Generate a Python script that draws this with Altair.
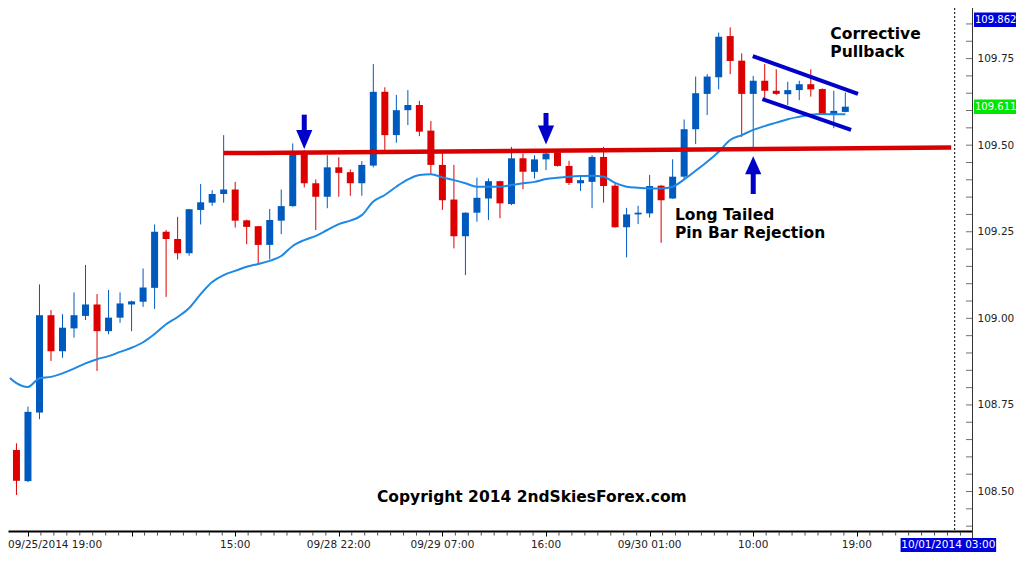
import altair as alt
import pandas as pd

# ---------------- data ----------------
bar_index = list(range(73))
open_px = [108.620, 108.530, 108.728, 109.009, 108.905, 108.971, 109.007, 109.040, 108.963, 109.002,
           109.040, 109.048, 109.088, 109.250, 109.229, 109.188, 109.313, 109.334, 109.359, 109.372,
           109.283, 109.266, 109.212, 109.282, 109.324, 109.481, 109.390, 109.351, 109.436, 109.422,
           109.390, 109.441, 109.654, 109.529, 109.601, 109.616, 109.542, 109.443, 109.343, 109.237,
           109.305, 109.346, 109.396, 109.330, 109.462, 109.423, 109.459, 109.479, 109.440, 109.390,
           109.394, 109.466, 109.383, 109.263, 109.300, 109.303, 109.383, 109.346, 109.409, 109.546,
           109.648, 109.696, 109.815, 109.744, 109.648, 109.686, 109.657, 109.647, 109.659, 109.676,
           109.662, 109.590, 109.596]
high_px = [108.639, 108.745, 109.098, 109.024, 109.012, 109.075, 109.154, 109.070, 109.082, 109.075,
           109.051, 109.144, 109.271, 109.255, 109.293, 109.316, 109.388, 109.370, 109.529, 109.394,
           109.285, 109.267, 109.316, 109.372, 109.505, 109.486, 109.401, 109.471, 109.465, 109.430,
           109.454, 109.734, 109.667, 109.645, 109.659, 109.628, 109.570, 109.476, 109.443, 109.306,
           109.406, 109.404, 109.397, 109.495, 109.476, 109.471, 109.481, 109.480, 109.455, 109.411,
           109.471, 109.495, 109.390, 109.319, 109.325, 109.414, 109.385, 109.459, 109.574, 109.698,
           109.705, 109.825, 109.840, 109.765, 109.700, 109.734, 109.719, 109.683, 109.686, 109.719,
           109.664, 109.657, 109.652]
low_px = [108.490, 108.527, 108.709, 108.877, 108.886, 108.944, 108.995, 108.848, 108.954, 108.987,
          108.963, 109.033, 109.027, 109.062, 109.170, 109.181, 109.271, 109.325, 109.334, 109.262,
          109.214, 109.157, 109.170, 109.243, 109.322, 109.378, 109.255, 109.318, 109.351, 109.354,
          109.354, 109.436, 109.486, 109.507, 109.558, 109.526, 109.417, 109.313, 109.202, 109.125,
          109.279, 109.284, 109.289, 109.327, 109.373, 109.404, 109.428, 109.438, 109.385, 109.368,
          109.318, 109.334, 109.262, 109.176, 109.272, 109.291, 109.218, 109.345, 109.402, 109.503,
          109.587, 109.661, 109.705, 109.524, 109.494, 109.630, 109.645, 109.616, 109.630, 109.640,
          109.589, 109.549, 109.595]
close_px = [108.531, 108.730, 109.009, 108.905, 108.973, 109.009, 109.040, 108.963, 109.002, 109.043,
            109.049, 109.089, 109.250, 109.229, 109.188, 109.315, 109.335, 109.359, 109.372, 109.282,
            109.264, 109.212, 109.284, 109.324, 109.481, 109.390, 109.351, 109.436, 109.420, 109.390,
            109.443, 109.654, 109.529, 109.601, 109.616, 109.539, 109.443, 109.341, 109.237, 109.305,
            109.348, 109.396, 109.332, 109.462, 109.423, 109.459, 109.476, 109.440, 109.391, 109.399,
            109.466, 109.382, 109.263, 109.300, 109.305, 109.382, 109.341, 109.409, 109.546, 109.650,
            109.698, 109.813, 109.743, 109.648, 109.686, 109.657, 109.648, 109.659, 109.676, 109.661,
            109.590, 109.599, 109.611]

ma_index = [-0.57] + list(range(73))
ma_values = [108.828,
             108.813, 108.802, 108.827, 108.831, 108.841, 108.855, 108.870, 108.882, 108.891, 108.903,
             108.915, 108.931, 108.955, 108.983, 109.004, 109.030, 109.070, 109.105, 109.125, 109.137,
             109.149, 109.157, 109.166, 109.180, 109.209, 109.226, 109.238, 109.255, 109.272, 109.282,
             109.298, 109.337, 109.356, 109.380, 109.401, 109.414, 109.416, 109.407, 109.399, 109.390,
             109.380, 109.380, 109.380, 109.385, 109.390, 109.394, 109.402, 109.406, 109.409, 109.411,
             109.412, 109.409, 109.391, 109.380, 109.377, 109.375, 109.375, 109.380, 109.401, 109.426,
             109.452, 109.481, 109.515, 109.529, 109.544, 109.555, 109.565, 109.575, 109.582, 109.588,
             109.590, 109.589, 109.589]

x_major_ticks = [1, 10, 19, 28, 37, 46, 55, 64, 73]
x_label_pos = [19, 28, 37, 46, 55, 64, 73]
x_label_txt = ["15:00", "09/28 22:00", "09/29 07:00", "16:00", "09/30 01:00", "10:00", "19:00"]
first_time_label = "09/25/2014 19:00"
cursor_time_label = "10/01/2014 03:00"
cursor_time_pos = [76.8, 85.1, 80.95]

y_tick_values = [108.50, 108.75, 109.00, 109.25, 109.50, 109.75]
y_minor_ticks = [108.40, 108.45, 108.50, 108.55, 108.60, 108.65, 108.70, 108.75, 108.80, 108.85,
                 108.90, 108.95, 109.00, 109.05, 109.10, 109.15, 109.20, 109.25, 109.30, 109.35,
                 109.40, 109.45, 109.50, 109.55, 109.60, 109.65, 109.70, 109.75, 109.80, 109.85]
x_minor_ticks = [2.125, 3.25, 4.375, 5.5, 6.625, 7.75, 8.875, 11.125, 12.25, 13.375, 14.5, 15.625,
                 16.75, 17.875, 20.125, 21.25, 22.375, 23.5, 24.625, 25.75, 26.875, 29.125, 30.25,
                 31.375, 32.5, 33.625, 34.75, 35.875, 38.125, 39.25, 40.375, 41.5, 42.625, 43.75,
                 44.875, 47.125, 48.25, 49.375, 50.5, 51.625, 52.75, 53.875, 56.125, 57.25, 58.375,
                 59.5, 60.625, 61.75, 62.875, 65.125, 66.25, 67.375, 68.5, 69.625, 70.75, 71.875,
                 74.125, 75.25, 76.375, 77.5, 78.625, 79.75, 80.875, 82.0]

price_box_values = [109.862, 109.611]
price_box_text = ["109.862", "109.611"]
price_box_color = ["#0000dd", "#00e600"]

# annotation geometry (bar index, price)
support_line_idx = [18.0, 81.2]
support_line_px = [109.477, 109.493]
channel_seg = ["upper", "upper", "lower", "lower"]
channel_idx = [63.96, 73.1, 64.8, 72.5]
channel_px = [109.757, 109.648, 109.633, 109.544]
arrow_idx = [25, 46, 64]
arrow_shaft_top = [109.588, 109.593, 109.422]
arrow_shaft_bot = [109.538, 109.552, 109.359]
arrow_head_px = [109.516, 109.529, 109.442]
arrow_dir = ["down", "down", "up"]
note_text = ["Corrective", "Pullback", "Long Tailed", "Pin Bar Rejection"]
note_idx = [70.7, 70.7, 57.2, 57.2]
note_px = [109.821, 109.769, 109.298, 109.246]
copyright_text = "Copyright 2014 2ndSkiesForex.com"
copyright_idx = 44.77
copyright_px = 108.484
dashed_line_idx = 81.5

# ---------------- chart ----------------
RED = "#dc0000"
BLUE = "#005abe"
ANNOT = "#0000c8"
FONT = "DejaVu Sans"
W, H = 964, 523

candles = pd.DataFrame({"i": bar_index, "open": open_px, "high": high_px,
                        "low": low_px, "close": close_px})
candles["dir"] = ["up" if c >= o else "down" for o, c in zip(open_px, close_px)]

xscale = alt.Scale(domain=[-0.3, 82.57], nice=False, zero=False)
yscale = alt.Scale(domain=[108.386, 109.896], nice=False, zero=False)
xaxis = alt.Axis(values=x_major_ticks, labels=False, ticks=True, tickSize=5, tickColor="black",
                 domainColor="black", domainWidth=2, grid=False, title=None)
yaxis = alt.Axis(orient="right", values=y_tick_values, format=".2f", tickSize=0, labelPadding=5,
                 domain=False, grid=False, title=None, labelFont=FONT, labelFontSize=10.5,
                 labelColor="#222222")


def X(f):
    return alt.X(f, type="quantitative", scale=xscale, axis=xaxis)


def Y(f):
    return alt.Y(f, type="quantitative", scale=yscale, axis=yaxis)


color = alt.Color("dir:N", scale=alt.Scale(domain=["up", "down"], range=[BLUE, RED]), legend=None)

wicks = alt.Chart(candles).mark_rule(strokeWidth=1).encode(
    x=X("i"), y=Y("low"), y2=alt.Y2("high"), color=color)
bodies = alt.Chart(candles).mark_bar(size=7).encode(
    x=X("i"), y=Y("open"), y2=alt.Y2("close"), color=color)

ma_df = pd.DataFrame({"i": ma_index, "ma": ma_values})
ma_line = alt.Chart(ma_df).mark_line(color="#1e88e5", strokeWidth=2, interpolate="monotone").encode(
    x=X("i"), y=Y("ma"))

support = alt.Chart(pd.DataFrame({"i": support_line_idx, "p": support_line_px})).mark_line(
    color="#d80000", strokeWidth=4.5, strokeCap="butt").encode(x=X("i"), y=Y("p"))

channel = alt.Chart(pd.DataFrame({"seg": channel_seg, "i": channel_idx, "p": channel_px})).mark_line(
    color=ANNOT, strokeWidth=4, strokeCap="butt").encode(x=X("i"), y=Y("p"), detail="seg:N")

arrows_df = pd.DataFrame({"i": arrow_idx, "top": arrow_shaft_top, "bot": arrow_shaft_bot,
                          "head": arrow_head_px, "dir": arrow_dir})
shafts = alt.Chart(arrows_df).mark_rule(color=ANNOT, strokeWidth=5, strokeCap="butt").encode(
    x=X("i"), y=Y("top"), y2=alt.Y2("bot"))
heads_down = alt.Chart(arrows_df).transform_filter("datum.dir == 'down'").mark_point(
    shape="M-0.85,-1L0.85,-1L0,1Z", size=361, filled=True, color=ANNOT, opacity=1).encode(
    x=X("i"), y=Y("head"))
heads_up = alt.Chart(arrows_df).transform_filter("datum.dir == 'up'").mark_point(
    shape="M-0.9,1L0.9,1L0,-1Z", size=324, filled=True, color=ANNOT, opacity=1).encode(
    x=X("i"), y=Y("head"))

notes = alt.Chart(pd.DataFrame({"i": note_idx, "p": note_px, "t": note_text})).mark_text(
    align="left", baseline="middle", font=FONT, fontWeight="bold", fontSize=15.5, color="black").encode(
    x=X("i"), y=Y("p"), text="t:N")
copyright_mark = alt.Chart(pd.DataFrame({"i": [copyright_idx], "p": [copyright_px],
                                         "t": [copyright_text]})).mark_text(
    align="center", baseline="middle", font=FONT, fontWeight="bold", fontSize=15.5, color="black").encode(
    x=X("i"), y=Y("p"), text="t:N")

dashed = alt.Chart(pd.DataFrame({"i": [dashed_line_idx]})).mark_rule(
    color="black", strokeWidth=1, strokeDash=[2, 2]).encode(
    x=X("i"), y=alt.value(0), y2=alt.value(H))

right_axis_line = alt.Chart(pd.DataFrame({"i": [0]})).mark_rule(color="#333333", strokeWidth=1).encode(
    x=alt.value(W + 0.5), y=alt.value(0), y2=alt.value(H + 12))

y_ticks = alt.Chart(pd.DataFrame({"p": y_minor_ticks})).mark_tick(
    orient="horizontal", thickness=1, size=6, color="#333333").encode(
    y=Y("p"), x=alt.value(W - 3))

x_ticks = alt.Chart(pd.DataFrame({"t": x_minor_ticks})).mark_tick(
    orient="vertical", thickness=1, size=3, color="black").encode(
    x=X("t"), y=alt.value(H + 3))

x_labels = alt.Chart(pd.DataFrame({"i": x_label_pos, "t": x_label_txt})).mark_text(
    align="center", baseline="middle", font=FONT, fontSize=10.5, color="#222222").encode(
    x=X("i"), y=alt.value(H + 14), text="t:N")
x_first = alt.Chart(pd.DataFrame({"t": [first_time_label]})).mark_text(
    align="left", baseline="middle", font=FONT, fontSize=10.5, color="#222222").encode(
    x=alt.value(0), y=alt.value(H + 14), text="t:N")

cursor_df = pd.DataFrame({"a": [cursor_time_pos[0]], "b": [cursor_time_pos[1]],
                          "c": [cursor_time_pos[2]], "t": [cursor_time_label]})
cursor_box = alt.Chart(cursor_df).mark_rect(color="#0000dd").encode(
    x=X("a"), x2=alt.X2("b"), y=alt.value(H + 7), y2=alt.value(H + 21))
cursor_txt = alt.Chart(cursor_df).mark_text(
    align="center", baseline="middle", font=FONT, fontSize=10.5, color="white").encode(
    x=X("c"), y=alt.value(H + 14), text="t:N")

box_df = pd.DataFrame({"p": price_box_values, "t": price_box_text, "bg": price_box_color})
price_boxes = alt.Chart(box_df).transform_calculate(
    top="datum.p + 0.021", bot="datum.p - 0.021").mark_rect().encode(
    x=alt.value(W + 2), x2=alt.value(W + 44), y=Y("top"), y2=alt.Y2("bot"),
    color=alt.Color("bg:N", scale=None))
price_text = alt.Chart(box_df).mark_text(
    align="left", baseline="middle", font=FONT, fontSize=10, color="white").encode(
    x=alt.value(W + 3), y=Y("p"), text="t:N")

chart = alt.layer(
    wicks, bodies, ma_line, support, channel, shafts, heads_down, heads_up,
    notes, copyright_mark, dashed, right_axis_line, y_ticks, x_ticks, x_labels, x_first,
    cursor_box, cursor_txt, price_boxes, price_text
).properties(
    width=W, height=H,
    padding={"left": 0, "top": 0, "right": 44, "bottom": 22},
    autosize=alt.AutoSizeParams(type="none"),
    background="white",
).configure_view(stroke=None)

chart.save("out.html", embed_options={"renderer": "svg", "actions": False})
